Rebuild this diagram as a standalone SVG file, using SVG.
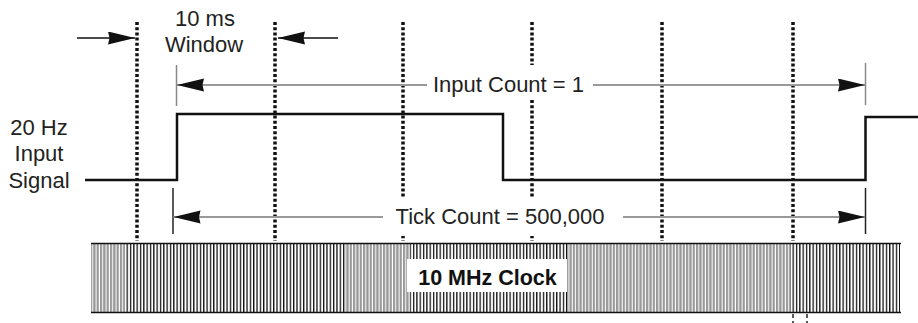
<svg xmlns="http://www.w3.org/2000/svg" width="918" height="323" viewBox="0 0 918 323">
<style>
.lbl{font-family:"Liberation Sans",Arial,sans-serif;font-size:22px;fill:#222;text-anchor:middle}
.bold{font-weight:bold;font-size:21.5px;fill:#111}
.dot{stroke:#111;stroke-width:3.5;stroke-dasharray:3 2.2;fill:none}
.gl{stroke:#999;stroke-width:2;fill:none}
.bl{stroke:#111;stroke-width:1.5;fill:none}
.tk{stroke:#888;stroke-width:1.5}
.tkb{stroke:#222;stroke-width:1.5}
</style>
<defs>
<marker id="ah" markerUnits="userSpaceOnUse" markerWidth="28" markerHeight="14" refX="27" refY="6.5" orient="auto">
<path d="M0,0 L27,6.5 L0,13 L1.5,6.5 z" fill="#111"/>
</marker>
<pattern id="pb" patternUnits="userSpaceOnUse" width="3.33" height="80" x="0" y="0">
<rect x="0" y="0" width="1.3" height="80" fill="#111"/>
</pattern>
<pattern id="pg" patternUnits="userSpaceOnUse" width="3.33" height="80" x="0" y="0">
<rect x="0" y="0" width="2.3" height="80" fill="#999"/>
</pattern>
</defs>

<g id="clock">
<rect x="91" y="243" width="810" height="70" fill="#fff"/>
<rect x="91" y="243" width="34" height="70" fill="url(#pg)"/>
<rect x="125" y="243" width="220" height="70" fill="url(#pb)"/>
<rect x="345" y="243" width="65" height="70" fill="url(#pg)"/>
<rect x="410" y="243" width="157" height="70" fill="url(#pb)"/>
<rect x="567" y="243" width="223" height="70" fill="url(#pg)"/>
<rect x="790" y="243" width="110" height="70" fill="url(#pb)"/>
<line x1="91" y1="243.5" x2="901" y2="243.5" stroke="#111" stroke-width="1.5"/>
<line x1="91" y1="312.5" x2="901" y2="312.5" stroke="#111" stroke-width="1.5"/>
<rect x="407" y="259" width="160" height="33" fill="#fff"/>
<text class="lbl bold" x="487.5" y="285">10 MHz Clock</text>
</g>

<g id="gridlines">
<line class="dot" x1="137" y1="22" x2="137" y2="241"/>
<line class="dot" x1="275" y1="22" x2="275" y2="241"/>
<line class="dot" x1="403" y1="22" x2="403" y2="241"/>
<line class="dot" x1="532" y1="22" x2="532" y2="241"/>
<line class="dot" x1="662" y1="22" x2="662" y2="241"/>
<line class="dot" x1="793" y1="22" x2="793" y2="241"/>
</g>

<g id="signal">
<path d="M85,180 H177 V114 H503 V180 H865.5 V117 H918" fill="none" stroke="#111" stroke-width="2.5"/>
<text class="lbl" x="39" y="135">20 Hz</text>
<text class="lbl" x="39" y="161">Input</text>
<text class="lbl" x="39" y="188">Signal</text>
</g>

<g id="connectors">
<line class="bl" x1="77" y1="38" x2="135" y2="38" marker-end="url(#ah)"/>
<line class="bl" x1="338" y1="38" x2="278" y2="38" marker-end="url(#ah)"/>
<line class="tk" x1="176.5" y1="65" x2="176.5" y2="106"/>
<line class="tk" x1="865.5" y1="63" x2="865.5" y2="105"/>
<line class="gl" x1="427" y1="85" x2="177" y2="85" marker-end="url(#ah)"/>
<line class="gl" x1="593" y1="85" x2="865" y2="85" marker-end="url(#ah)"/>
<line class="tkb" x1="173" y1="188" x2="173" y2="234"/>
<line class="tkb" x1="865.5" y1="188" x2="865.5" y2="234"/>
<line class="gl" x1="383" y1="217" x2="173.5" y2="217" marker-end="url(#ah)"/>
<line class="gl" x1="623" y1="217" x2="865" y2="217" marker-end="url(#ah)"/>
<line class="tkb" x1="793" y1="314" x2="793" y2="318"/>
<line class="tkb" x1="807" y1="314" x2="807" y2="318"/>
<line class="tkb" x1="793" y1="321" x2="793" y2="323"/>
<line class="tkb" x1="807" y1="321" x2="807" y2="323"/>
</g>

<g id="labels">
<text class="lbl" x="205" y="26">10 ms</text>
<text class="lbl" x="204" y="52">Window</text>
<rect x="428" y="65" width="164" height="35" fill="#fff"/>
<text class="lbl" x="508.5" y="92">Input Count = 1</text>
<rect x="384" y="197" width="238" height="39" fill="#fff"/>
<text class="lbl" x="500" y="224">Tick Count = 500,000</text>
</g>
</svg>
